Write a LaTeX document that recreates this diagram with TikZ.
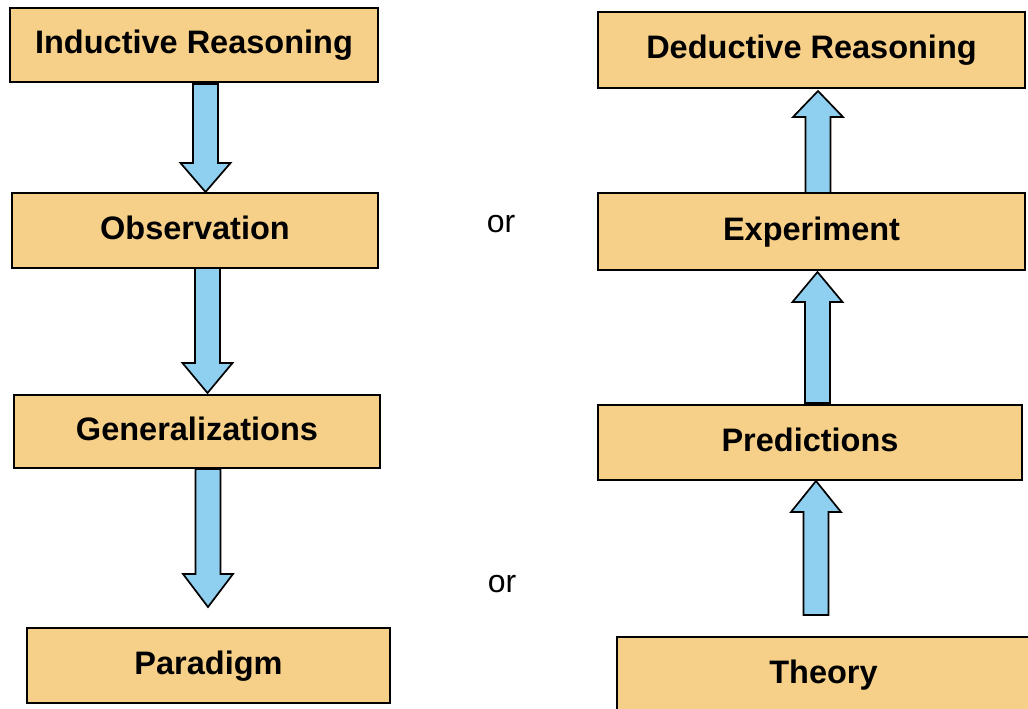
\documentclass[tikz,border=0pt]{standalone}
\usepackage{fontspec}
\setmainfont{Liberation Sans}
\usetikzlibrary{calc}
\definecolor{boxfill}{HTML}{F6D088}
\definecolor{arrowfill}{HTML}{8FCFEF}
\tikzset{
  stage/.style={draw=black, line width=1.8pt, fill=boxfill, inner sep=0pt,
    font=\bfseries\fontsize{32.5}{36}\selectfont, text height=23pt, text depth=6pt},
  barrow/.style={draw=black, line width=1.7pt, fill=arrowfill, line join=miter},
  ortext/.style={font=\fontsize{32}{34}\selectfont, inner sep=0pt}
}
\newcommand\blockarrow[3]{%
  \draw[barrow] let \p1=(#1), \p2=(#2) in
    ({\x1-12.5pt},\y1) -- ({\x1+12.5pt},\y1) -- ({\x1+12.5pt},{\y2+(#3)*1pt})
    -- ({\x1+25pt},{\y2+(#3)*1pt}) -- (\x1,\y2) -- ({\x1-25pt},{\y2+(#3)*1pt})
    -- ({\x1-12.5pt},{\y2+(#3)*1pt}) -- cycle;}
\begin{document}
\begin{tikzpicture}[x=1pt,y=-1pt]
\useasboundingbox (0,0) rectangle (1028,709);
% left column
\node[stage, minimum width=368pt, minimum height=74pt] (ind) at (194,45) {Inductive Reasoning};
\node[stage, minimum width=366pt, minimum height=75pt] (obs) at (195,230.5) {Observation};
\node[stage, minimum width=366pt, minimum height=73pt] (gen) at (197,431.5) {Generalizations};
\node[stage, minimum width=363pt, minimum height=75pt] (par) at (208.5,665.5) {Paradigm};
% right column
\node[stage, minimum width=427pt, minimum height=76pt] (ded) at (811.5,50) {Deductive Reasoning};
\node[stage, minimum width=427pt, minimum height=77pt] (exp) at (811.5,231.5) {Experiment};
\node[stage, minimum width=424pt, minimum height=75pt] (pre) at (810,442.5) {Predictions};
\node[stage, minimum width=413pt, minimum height=75pt] (the) at (823.5,674.5) {Theory};
% or labels
\node[ortext] (or1) at (501,224) {or};
\node[ortext] (or2) at (502,584) {or};
% arrow end points
\coordinate (l1s) at (205.5,84);  \coordinate (l1t) at (205.5,192);
\coordinate (l2s) at (207.5,268); \coordinate (l2t) at (207.5,393);
\coordinate (l3s) at (208,469);   \coordinate (l3t) at (208,607);
\coordinate (r1s) at (818,193);   \coordinate (r1t) at (818,91);
\coordinate (r2s) at (817.5,403); \coordinate (r2t) at (817.5,272);
\coordinate (r3s) at (816,615);   \coordinate (r3t) at (816,481);
% arrows (ind -> obs -> gen -> par ; the -> pre -> exp -> ded)
\blockarrow{l1s}{l1t}{29}
\blockarrow{l2s}{l2t}{30}
\blockarrow{l3s}{l3t}{33}
\blockarrow{r1s}{r1t}{-26}
\blockarrow{r2s}{r2t}{-30}
\blockarrow{r3s}{r3t}{-31}
\end{tikzpicture}
\end{document}
